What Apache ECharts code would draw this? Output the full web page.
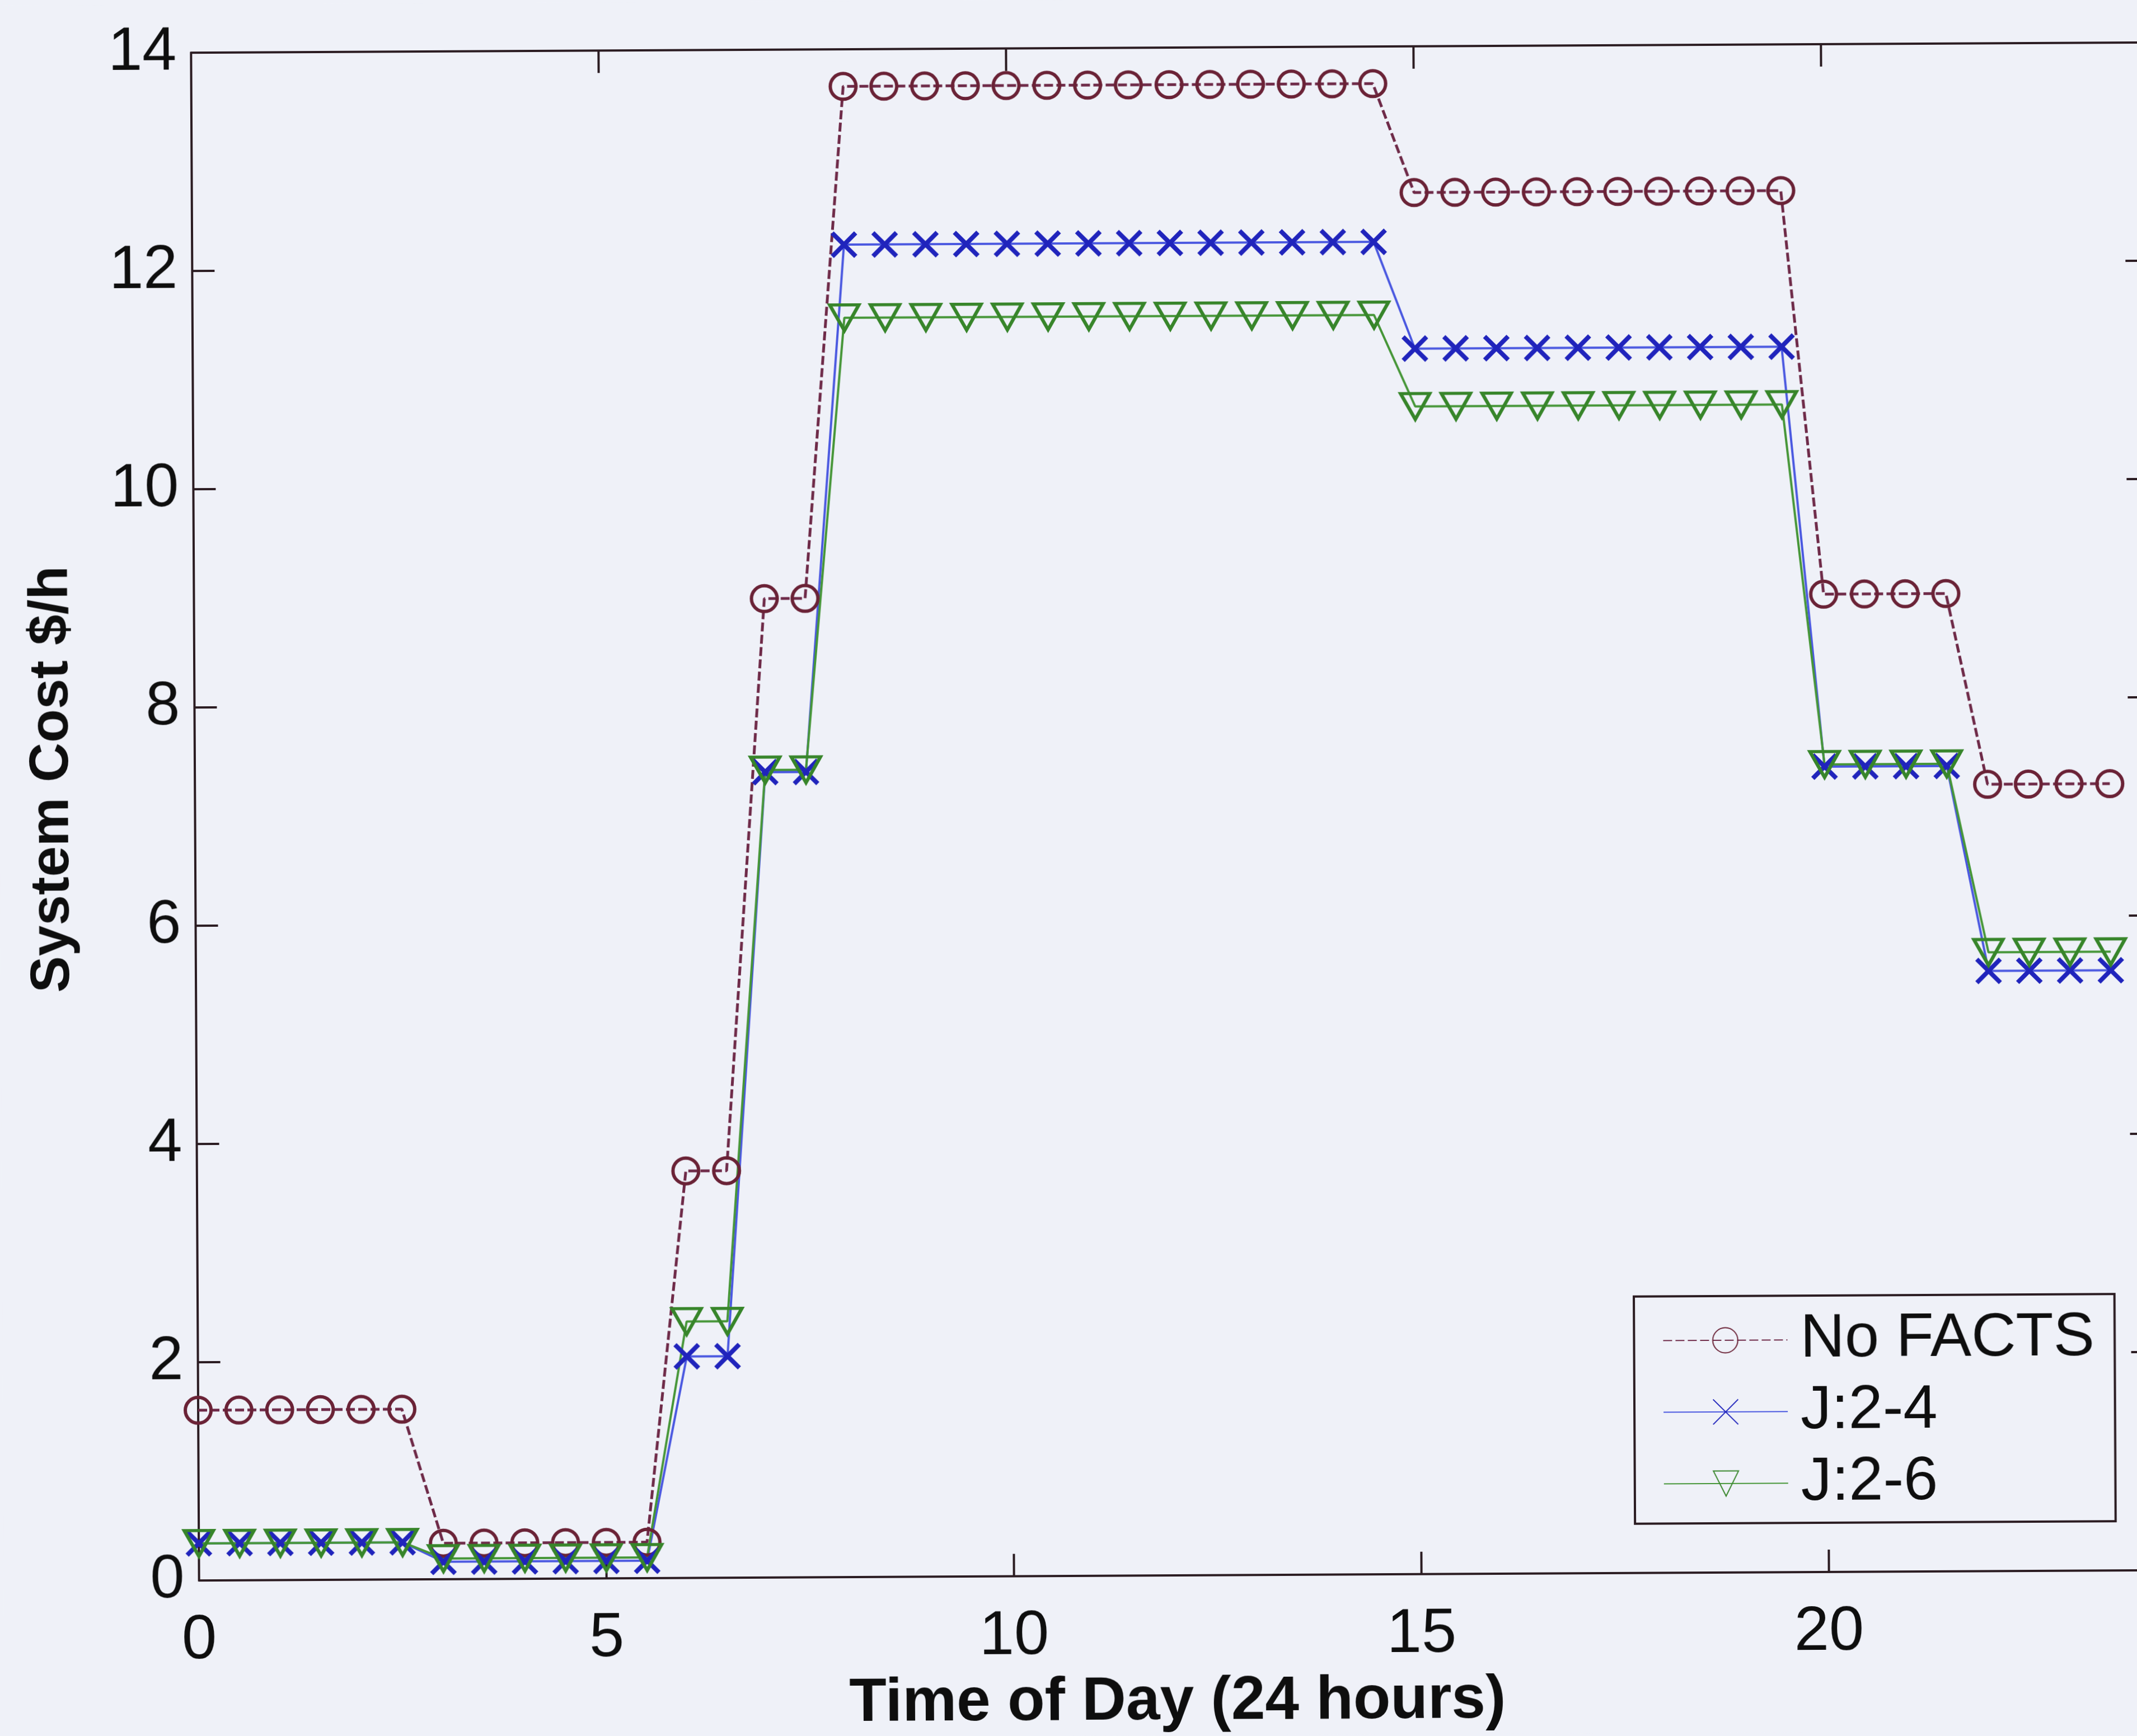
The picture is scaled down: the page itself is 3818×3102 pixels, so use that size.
<!DOCTYPE html>
<html>
<head>
<meta charset="utf-8">
<title>System Cost over the Day</title>
<script src="https://cdn.jsdelivr.net/npm/echarts/dist/echarts.min.js"></script>
<style>
  html, body { margin: 0; padding: 0; width: 3818px; height: 3102px; overflow: hidden; background: #eff1f8; }
  #chart { position: absolute; left: 0; top: 0; width: 3900px; height: 3102px;
           transform: rotate(-0.3deg); transform-origin: 1909px 1551px; }
</style>
</head>
<body>
<div id="chart"></div>
<script>
// Time of day, half-hour steps
const hours = [0, 0.5, 1, 1.5, 2, 2.5, 3, 3.5, 4, 4.5, 5, 5.5,
               6, 6.5, 7, 7.5, 8, 8.5, 9, 9.5, 10, 10.5, 11, 11.5,
               12, 12.5, 13, 13.5, 14, 14.5, 15, 15.5, 16, 16.5, 17, 17.5,
               18, 18.5, 19, 19.5, 20, 20.5, 21, 21.5, 22, 22.5, 23, 23.5];

// System cost ($/h) for each case
const noFacts = [1.56, 1.56, 1.56, 1.56, 1.56, 1.56, 0.33, 0.33, 0.33, 0.33, 0.33, 0.33,
                 3.73, 3.73, 8.97, 8.97, 13.66, 13.66, 13.66, 13.66, 13.66, 13.66, 13.66, 13.66,
                 13.66, 13.66, 13.66, 13.66, 13.66, 13.66, 12.66, 12.66, 12.66, 12.66, 12.66, 12.66,
                 12.66, 12.66, 12.66, 12.66, 8.96, 8.96, 8.96, 8.96, 7.21, 7.21, 7.21, 7.21];
const j24 = [0.34, 0.34, 0.34, 0.34, 0.34, 0.34, 0.16, 0.16, 0.16, 0.16, 0.16, 0.16,
             2.03, 2.03, 7.38, 7.38, 12.21, 12.21, 12.21, 12.21, 12.21, 12.21, 12.21, 12.21,
             12.21, 12.21, 12.21, 12.21, 12.21, 12.21, 11.23, 11.23, 11.23, 11.23, 11.23, 11.23,
             11.23, 11.23, 11.23, 11.23, 7.38, 7.38, 7.38, 7.38, 5.50, 5.50, 5.50, 5.50];
const j26 = [0.34, 0.34, 0.34, 0.34, 0.34, 0.34, 0.19, 0.19, 0.19, 0.19, 0.19, 0.19,
             2.35, 2.35, 7.40, 7.40, 11.54, 11.54, 11.54, 11.54, 11.54, 11.54, 11.54, 11.54,
             11.54, 11.54, 11.54, 11.54, 11.54, 11.54, 10.70, 10.70, 10.70, 10.70, 10.70, 10.70,
             10.70, 10.70, 10.70, 10.70, 7.40, 7.40, 7.40, 7.40, 5.67, 5.67, 5.67, 5.67];

const seriesNames = ['No FACTS', 'J:2-4', 'J:2-6'];

const FONT = 'Liberation Sans, Arial, Helvetica, sans-serif';
const AXIS_COLOR = '#2b1c22';
const TEXT_COLOR = '#0e0e0e';

const pairs = (ys) => hours.map((h, i) => [h, ys[i]]);

const SYM_CROSS = 'path://M0,0L10,10M0,10L10,0';
const SYM_TRI_DOWN = 'path://M0,0L10,0L5,9Z';

const chart = echarts.init(document.getElementById('chart'), null, { renderer: 'canvas', width: 3900, height: 3102 });

// Box frame: every axis keeps to its own edge of the plot, ticks point inward
const frameAxis = () => ({
  axisLine: { show: true, onZero: false, lineStyle: { color: AXIS_COLOR, width: 4 } },
  axisTick: { show: true, inside: true, length: 40, lineStyle: { color: AXIS_COLOR, width: 4 } },
  splitLine: { show: false }
});

chart.setOption({
  animation: false,
  backgroundColor: '#eff1f8',
  grid: { left: 349, top: 86, width: 3494, height: 2754, containLabel: false },
  xAxis: [
    Object.assign({
      type: 'value', position: 'bottom', min: 0, max: 24, interval: 5,
      name: 'Time of Day (24 hours)', nameLocation: 'middle', nameGap: 172,
      nameTextStyle: { fontFamily: FONT, fontSize: 109, fontWeight: 'bold', color: TEXT_COLOR },
      axisLabel: { fontFamily: FONT, fontSize: 112, color: TEXT_COLOR, margin: 52, showMaxLabel: false }
    }, frameAxis()),
    Object.assign({
      type: 'value', position: 'top', min: 0, max: 24, interval: 5,
      axisLabel: { show: false }
    }, frameAxis())
  ],
  yAxis: [
    Object.assign({
      type: 'value', position: 'left', min: 0, max: 14, interval: 2,
      name: 'System Cost $/h', nameLocation: 'middle', nameGap: 205,
      nameTextStyle: { fontFamily: FONT, fontSize: 98, fontWeight: 'bold', color: TEXT_COLOR,
                       padding: [0, 0, 0, 136] },
      axisLabel: { fontFamily: FONT, fontSize: 110, color: TEXT_COLOR, margin: 26 }
    }, frameAxis()),
    Object.assign({
      type: 'value', position: 'right', min: 0, max: 14, interval: 2,
      axisLabel: { show: false }
    }, frameAxis())
  ],
  legend: {
    orient: 'vertical',
    left: 2915, top: 2322,
    padding: [24, 36, 16, 51],
    itemWidth: 222, itemHeight: 56, itemGap: 18,
    borderColor: AXIS_COLOR, borderWidth: 4,
    textStyle: { fontFamily: FONT, fontSize: 110, color: TEXT_COLOR, padding: [0, 0, 0, 18] },
    data: seriesNames
  },
  series: [
    {
      name: seriesNames[0], type: 'line', data: pairs(noFacts),
      symbol: 'circle', symbolSize: 46,
      itemStyle: { color: 'rgba(0,0,0,0)', borderColor: '#6a2236', borderWidth: 6 },
      lineStyle: { color: '#6e2a48', width: 5, type: [16, 6] },
      emphasis: { disabled: true }
    },
    {
      name: seriesNames[1], type: 'line', data: pairs(j24),
      symbol: SYM_CROSS, symbolSize: 42,
      itemStyle: { color: 'rgba(0,0,0,0)', borderColor: '#2024bc', borderWidth: 8 },
      lineStyle: { color: '#4a58e0', width: 4 },
      emphasis: { disabled: true }
    },
    {
      name: seriesNames[2], type: 'line', data: pairs(j26),
      symbol: SYM_TRI_DOWN, symbolSize: [52, 46],
      itemStyle: { color: 'rgba(0,0,0,0)', borderColor: '#37852a', borderWidth: 6 },
      lineStyle: { color: '#469638', width: 4 },
      emphasis: { disabled: true }
    }
  ]
});
</script>
</body>
</html>
